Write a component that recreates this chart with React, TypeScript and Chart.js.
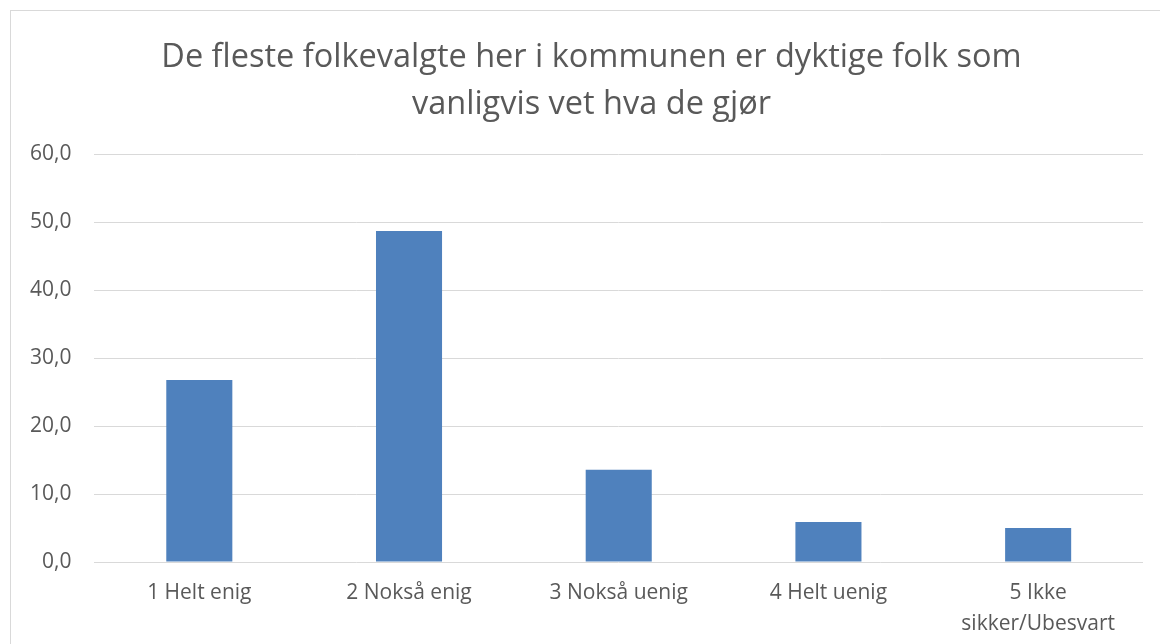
import React, { useEffect, useRef } from "react";
import { Chart, registerables } from "chart.js";

Chart.register(...registerables);

const titleLines = ["De fleste folkevalgte her i kommunen er dyktige folk som", "vanligvis vet hva de gjør"];
const categories: (string | string[])[] = ["1 Helt enig", "2 Nokså enig", "3 Nokså uenig", "4 Helt uenig", ["5 Ikke", "sikker/Ubesvart"]];
const values = [26.8, 48.7, 13.6, 5.9, 5.0];
const yMin = 0;
const yMax = 60;
const yStep = 10;

const FONT = "'Open Sans', sans-serif";
const TEXT = "#595959";
const GRID = "#d9d9d9";
const BAR = "#4F81BD";

export default function App() {
  const ref = useRef<HTMLCanvasElement | null>(null);
  useEffect(() => {
    if (!ref.current) return;
    const chart = new Chart(ref.current, {
      type: "bar",
      data: {
        labels: categories,
        datasets: [
          {
            data: values,
            backgroundColor: BAR,
            borderWidth: 0,
            barPercentage: 0.315,
            categoryPercentage: 1,
            yAxisID: "y",
          },
        ],
      },
      options: {
        animation: false,
        responsive: false,
        maintainAspectRatio: false,
        layout: { padding: { left: 7, right: 4, top: 0, bottom: -11 } },
        plugins: {
          legend: { display: false },
          tooltip: { enabled: false },
          title: {
            display: true,
            text: titleLines,
            color: TEXT,
            font: { family: FONT, size: 32.5, weight: "normal", lineHeight: 1.45 },
            padding: { top: 34, bottom: 26 },
          },
        },
        scales: {
          x: {
            grid: { display: false, drawTicks: false, tickLength: 0 },
            border: { display: false },
            ticks: {
              color: TEXT,
              font: { family: FONT, size: 21, lineHeight: 1.45 },
              padding: 16,
              maxRotation: 0,
              autoSkip: false,
            },
          },
          y: {
            min: yMin,
            max: yMax,
            grid: { color: GRID, lineWidth: 1, drawTicks: false, tickLength: 0 },
            border: { display: false },
            ticks: {
              stepSize: yStep,
              color: TEXT,
              font: { family: FONT, size: 21 },
              padding: 23,
              callback: (v: any) => Number(v).toFixed(1).replace(".", ","),
            },
          },
          ySpacer: {
            type: "linear",
            position: "right",
            display: true,
            min: yMin,
            max: yMax,
            grid: { display: false, drawTicks: false, tickLength: 0 },
            border: { display: false },
            ticks: { display: false },
            afterFit: (s: any) => {
              s.width = 33;
            },
          },
        },
      },
    });
    return () => chart.destroy();
  }, []);
  return (
    <div style={{ position: "fixed", left: 0, top: 0, width: 1160, height: 644, overflow: "hidden", background: "#fff" }}>
      <div style={{ position: "absolute", left: 10, top: 10, width: 1200, height: 700, border: "1px solid #d9d9d9", boxSizing: "border-box" }} />
      <canvas ref={ref} width={1180} height={644} style={{ position: "absolute", left: 0, top: 0, width: 1180, height: 644 }} />
    </div>
  );
}
